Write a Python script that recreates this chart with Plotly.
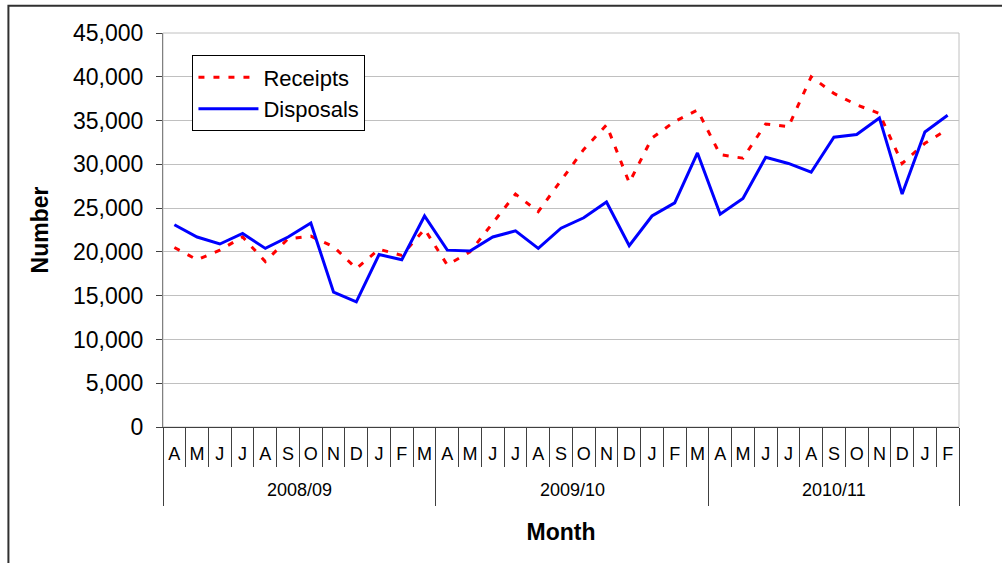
import plotly.graph_objects as go

# ---- data ----
months = ["A", "M", "J", "J", "A", "S", "O", "N", "D", "J", "F", "M",
          "A", "M", "J", "J", "A", "S", "O", "N", "D", "J", "F", "M",
          "A", "M", "J", "J", "A", "S", "O", "N", "D", "J", "F"]
fiscal_years = ["2008/09", "2009/10", "2010/11"]
year_month_counts = [12, 12, 11]
receipts = [20500, 19100, 20200, 21700, 18900, 21500, 21800, 20600, 18100, 20300, 19600, 22600,
            18500, 20000, 23300, 26600, 24600, 28200, 31700, 34500, 27900, 33000, 34900, 36200,
            31100, 30700, 34600, 34300, 40000, 38100, 36800, 35800, 30100, 32400, 34000]
disposals = [23100, 21700, 20900, 22100, 20400, 21700, 23300, 15400, 14300, 19700, 19100, 24100,
             20200, 20100, 21700, 22400, 20400, 22700, 23900, 25700, 20700, 24100, 25600, 31300,
             24300, 26100, 30800, 30100, 29100, 33100, 33400, 35300, 26600, 33700, 35600]
y_ticks = list(range(0, 45001, 5000))

idx = list(range(len(months)))
xr = [-0.5, len(months) - 0.5]

# group boundaries and centres
bounds = [-0.5]
centres = []
start = 0
for n in year_month_counts:
    centres.append(start + (n - 1) / 2)
    start += n
    bounds.append(start - 0.5)
month_bounds = [i - 0.5 for i in idx] + [xr[1]]

FONT = "Liberation Sans, Arial, sans-serif"
NARROW = "Liberation Sans Narrow, Arial Narrow, Liberation Sans, sans-serif"

fig = go.Figure()
fig.add_trace(go.Scatter(x=idx, y=receipts, name="Receipts", mode="lines", legendgroup="r",
                         line=dict(color="#FF0000", width=3, dash="6px,9px")))
fig.add_trace(go.Scatter(x=idx, y=disposals, name="Disposals", mode="lines", legendgroup="d",
                         line=dict(color="#0000FF", width=3)))
# invisible carriers so the overlay axes (month cells / year dividers) get drawn
fig.add_trace(go.Scatter(x=month_bounds, y=[None] * len(month_bounds), xaxis="x2",
                         showlegend=False, hoverinfo="skip", mode="lines"))
fig.add_trace(go.Scatter(x=bounds, y=[None] * len(bounds), xaxis="x3",
                         showlegend=False, hoverinfo="skip", mode="lines"))

fig.update_layout(
    width=1002, height=563,
    margin=dict(l=163, r=43, t=33, b=136),
    paper_bgcolor="white", plot_bgcolor="white",
    font=dict(family=FONT, color="black"),
    showlegend=True,
    legend=dict(x=0.037, y=0.943, xanchor="left", yanchor="top",
                bgcolor="white", bordercolor="black", borderwidth=1,
                font=dict(family=FONT, size=22, color="black"),
                traceorder="grouped", tracegroupgap=0, itemwidth=60),
    xaxis=dict(range=xr, tickmode="array", tickvals=idx, ticktext=months,
               ticks="", showgrid=False, zeroline=False,
               showline=True, linecolor="#404040", linewidth=1,
               tickfont=dict(family=NARROW, size=18, color="black"),
               ticklabelstandoff=10,
               title=dict(text="Month", font=dict(family=FONT, size=23, weight="bold"),
                          standoff=61)),
    xaxis2=dict(range=xr, overlaying="x", anchor="y", side="bottom",
                tickmode="array", tickvals=month_bounds,
                ticks="outside", ticklen=39, tickcolor="#404040", tickwidth=1,
                showticklabels=False, showgrid=False, zeroline=False, showline=False),
    xaxis3=dict(range=xr, overlaying="x", anchor="y", side="bottom",
                tickmode="array", tickvals=bounds,
                ticks="outside", ticklen=78, tickcolor="#404040", tickwidth=1,
                showticklabels=False, showgrid=False, zeroline=False, showline=False),
    yaxis=dict(range=[0, 45000], tickmode="array", tickvals=y_ticks,
               tickformat=",", ticks="outside", ticklen=6, tickcolor="#404040",
               showgrid=True, gridcolor="#c0c0c0", gridwidth=1, zeroline=False,
               showline=True, linecolor="#808080", linewidth=1,
               tickfont=dict(family=FONT, size=23, color="black"),
               ticklabelstandoff=8,
               title=dict(text="Number", font=dict(family=FONT, size=23, weight="bold"),
                          standoff=17)),
)

# year labels under month cells
for name, c in zip(fiscal_years, centres):
    fig.add_annotation(x=c, y=-0.16, xref="x", yref="paper", text=name, showarrow=False,
                       font=dict(family=NARROW, size=18, color="black"),
                       xanchor="center", yanchor="middle")

# light plot-area border (top/right)
fig.add_shape(type="rect", xref="paper", yref="paper", x0=0, x1=1, y0=0, y1=1,
              line=dict(color="#c0c0c0", width=1), layer="below")
# outer chart frame
fig.add_shape(type="rect", xref="paper", yref="paper", x0=-0.1942, x1=1.07, y0=-0.40, y1=1.0694,
              line=dict(color="#303030", width=2), fillcolor="rgba(0,0,0,0)", layer="above")

fig.write_html("out.html", config={"displayModeBar": False},
               post_script="document.body.style.margin='0';")
